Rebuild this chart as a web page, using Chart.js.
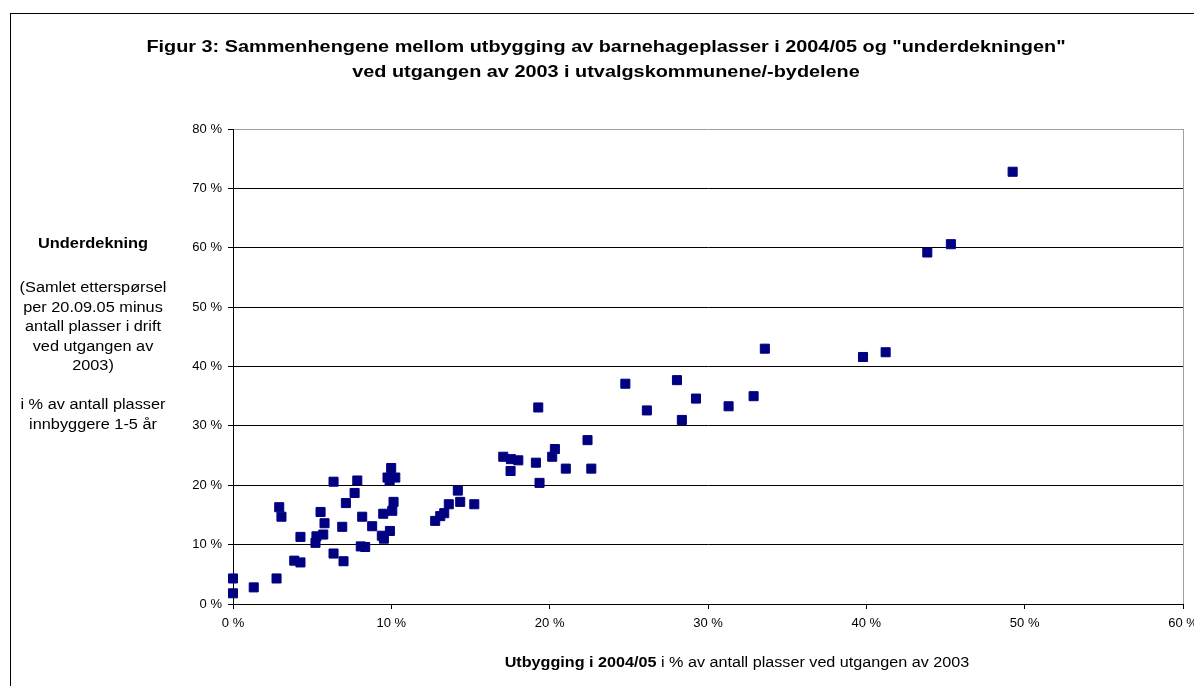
<!DOCTYPE html>
<html><head><meta charset="utf-8">
<script src="https://cdn.jsdelivr.net/npm/chart.js@4.4.0/dist/chart.umd.min.js"></script>
<style>
html,body{margin:0;padding:0;background:#fff;width:1194px;height:686px;overflow:hidden;}
#wrap{position:relative;width:1194px;height:686px;overflow:hidden;}
canvas{position:absolute;left:0;top:0;}
.frame{position:absolute;left:10px;top:13px;width:1300px;height:800px;border:1px solid #000;}
.t{position:absolute;font-family:"Liberation Sans",Arial,sans-serif;color:#000;white-space:nowrap;transform-origin:50% 50%;}
#title{left:0;width:1212px;top:34px;text-align:center;font-weight:bold;font-size:17px;line-height:25px;transform:scaleX(1.168);}
#ylab1{left:0;width:186px;top:233px;text-align:center;font-weight:bold;font-size:14px;line-height:20px;transform:scaleX(1.17);}
#ylab2{left:0;width:186px;top:278px;text-align:center;font-size:14px;line-height:19.5px;transform:scaleX(1.165);}
#xlab{left:437px;width:600px;top:652px;text-align:center;font-size:14px;line-height:20px;transform:scaleX(1.155);}
</style></head>
<body><div id="wrap">
<div class="frame"></div>
<canvas id="c" width="1194" height="686"></canvas>
<div class="t" id="title">Figur 3: Sammenhengene mellom utbygging av barnehageplasser i 2004/05 og "underdekningen"<br>ved utgangen av 2003 i utvalgskommunene/-bydelene</div>
<div class="t" id="ylab1">Underdekning</div>
<div class="t" id="ylab2">(Samlet etterspørsel<br>per 20.09.05 minus<br>antall plasser i drift<br>ved utgangen av<br>2003)<br><br>i % av antall plasser<br>innbyggere 1-5 år</div>
<div class="t" id="xlab"><b>Utbygging i 2004/05</b> i % av antall plasser ved utgangen av 2003</div>
</div>
<script>
// Utbygging i 2004/05 (% of places at end of 2003)
const utbygging = [
  0, 0, 1.31, 2.75, 2.92, 3.06, 3.87, 4.26, 4.26, 5.21,
  5.27, 5.70, 5.53, 5.78, 6.35, 6.35, 6.90, 6.98, 7.13, 7.68,
  7.85, 8.16, 8.07, 8.35, 8.79, 9.40, 9.53, 9.49, 9.76, 9.99,
  9.89, 10.25, 9.91, 10.06, 10.14, 12.77, 13.09, 13.34, 13.63, 14.20,
  14.35, 15.24, 17.07, 17.55, 18.02, 17.53, 19.13, 19.28, 19.36, 20.16,
  20.33, 21.02, 22.39, 22.63, 24.78, 26.14, 28.04, 28.35, 29.24, 31.30,
  32.88, 33.59, 39.79, 41.22, 43.85, 45.34, 49.24
];
// Underdekning (% of children 1-5 years)
const underdekning = [
  4.3, 1.8, 2.8, 4.3, 16.3, 14.7, 7.3, 7.0, 11.3, 10.3,
  11.4, 11.7, 15.5, 13.6, 20.6, 8.5, 13.0, 7.2, 17.0, 18.7,
  20.8, 14.7, 9.7, 9.6, 13.1, 11.5, 11.0, 15.2, 21.3, 22.9,
  20.8, 21.3, 12.3, 15.7, 17.2, 14.0, 14.8, 15.3, 16.8, 19.1,
  17.2, 16.8, 24.8, 24.4, 24.2, 22.4, 23.8, 33.1, 20.4, 24.8,
  26.1, 22.8, 27.6, 22.8, 37.1, 32.6, 37.7, 31.0, 34.6, 33.3,
  35.0, 43.0, 41.6, 42.4, 59.2, 60.6, 72.8
];
const xTickValues = [0, 10, 20, 30, 40, 50, 60];
const yTickValues = [0, 10, 20, 30, 40, 50, 60, 70, 80];

const tickFont = {family: "'Liberation Sans', Arial, sans-serif", size: 13};
const points = utbygging.map((x, i) => ({x: x, y: underdekning[i]}));

new Chart(document.getElementById('c'), {
  type: 'scatter',
  data: {datasets: [{
    data: points,
    clip: false,
    pointStyle: 'rect',
    pointRadius: 6.4,
    pointHoverRadius: 6.4,
    backgroundColor: '#000080',
    borderColor: '#000080',
    borderWidth: 1
  }]},
  options: {
    responsive: false,
    animation: false,
    devicePixelRatio: 1,
    layout: {padding: {top: 129, right: 11, bottom: 42, left: 0}},
    plugins: {legend: {display: false}, tooltip: {enabled: false}, title: {display: false}},
    scales: {
      x: {
        type: 'linear', min: 0, max: 60,
        afterBuildTicks: s => { s.ticks = xTickValues.map(v => ({value: v})); },
        ticks: {callback: v => v + ' %', font: tickFont, color: '#000', padding: 7, maxRotation: 0, autoSkip: false},
        grid: {
          color: c => (c.tick && c.tick.value === 60) ? '#a0a0a0' : 'rgba(0,0,0,0)',
          tickColor: '#000', tickLength: 5, lineWidth: 1
        },
        border: {display: true, color: '#000', width: 1},
        afterFit: s => { s.height = 40; s.paddingLeft = 0; s.paddingRight = 0; }
      },
      y: {
        type: 'linear', min: 0, max: 80,
        afterBuildTicks: s => { s.ticks = yTickValues.map(v => ({value: v})); },
        ticks: {callback: v => v + ' %', font: tickFont, color: '#000', padding: 6, autoSkip: false},
        grid: {
          color: c => (c.tick && c.tick.value === 80) ? '#a0a0a0' : '#000',
          tickColor: '#000', tickLength: 5, lineWidth: 1
        },
        border: {display: true, color: '#000', width: 1},
        afterFit: s => { s.width = 233; }
      }
    }
  }
});
</script>
</body></html>
